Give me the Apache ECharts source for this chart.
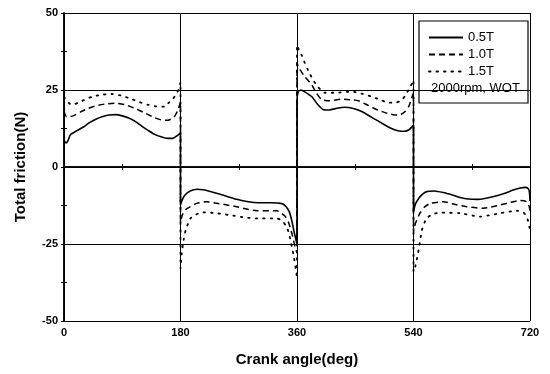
<!DOCTYPE html>
<html lang="en">
<head>
    <meta charset="utf-8"/>
    <title>Total friction</title>
    <script src="https://cdn.jsdelivr.net/npm/echarts@6/dist/echarts.min.js"></script>
</head>
<body style="margin:0;background:#fff;">
<div id="chart" style="width:550px;height:374px;"></div>
<script type="text/javascript">
    // [crank angle (deg), total friction (N)]
    const load05 = [
        [0, 8.8], [3, 7.8], [6, 8.5], [10, 10.5], [20, 11.8], [30, 13], [40, 14.5], [50, 15.6], [60, 16.4],
        [70, 16.9], [80, 17], [90, 16.6], [100, 15.9], [110, 14.8], [120, 13.3], [130, 11.9], [140, 10.6],
        [150, 9.8], [160, 9.3], [168, 9.3], [175, 10.2], [180, 11],
        [180, -12.3], [183, -10.5], [187, -9.1], [195, -7.8], [205, -7.2], [215, -7.4], [230, -8.2], [250, -9.4],
        [267, -10.5], [285, -11.3], [300, -11.6], [320, -11.6], [335, -11.8], [342, -12.6], [348, -14.5],
        [352, -17.5], [356, -21.5], [360, -25],
        [360, 21.5], [362, 24.5], [366, 25], [372, 24.4], [383, 22.8], [392, 20.3], [401, 18.6], [410, 18.5],
        [422, 19.1], [434, 19.4], [447, 19], [460, 18], [475, 16.2], [491, 14.2], [505, 12.6], [516, 11.8],
        [526, 11.6], [533, 12.1], [540, 13.6],
        [540, -14.5], [543, -12], [548, -10.2], [554, -8.8], [560, -8], [572, -7.8], [586, -8.3], [600, -9.1],
        [612, -9.9], [625, -10.4], [638, -10.5], [650, -10.2], [664, -9.6], [680, -8.6], [694, -7.5],
        [705, -6.8], [713, -6.6], [717, -7], [719, -8], [720, -11]
    ];
    const load10 = [
        [0, 18], [4, 16.3], [9, 16.4], [14, 16.6], [25, 17.8], [37, 19], [50, 19.9], [65, 20.5], [79, 20.7],
        [95, 20.2], [110, 19], [125, 17.5], [140, 16], [150, 15.3], [161, 15.2], [170, 16.2], [176, 18.5], [180, 21],
        [180, -18], [183, -15.5], [188, -13.8], [195, -12.9], [205, -11.8], [220, -11.3], [240, -11.9],
        [267, -12.9], [285, -13.8], [298, -14.2], [329, -14.2], [342, -16.1], [347, -18], [352, -21.5],
        [357, -25.9], [360, -28],
        [360, 33.7], [365, 31.5], [372, 29.3], [383, 26.6], [390, 24], [398, 21.9], [410, 21.5], [429, 22],
        [445, 21.8], [455, 21.5], [470, 20], [485, 18.5], [500, 17.4], [511, 16.9], [520, 17], [527, 18],
        [533, 19.8], [537, 22.3], [540, 24],
        [540, -21], [543, -18.3], [550, -15], [557, -13], [566, -11.8], [586, -11.3], [605, -12.2], [622, -12.9],
        [648, -13.4], [674, -12.3], [690, -11.5], [705, -10.9], [715, -11.3], [719, -13], [720, -14.5]
    ];
    const load15 = [
        [0, 22.7], [5, 21.3], [9, 20.5], [14, 20.3], [25, 21.2], [43, 22.8], [60, 23.5], [74, 23.7], [90, 23.1],
        [105, 22], [115, 21.2], [130, 20.2], [146, 19.6], [155, 19.6], [161, 20.7], [168, 22], [174, 23.9],
        [178, 25.5], [180, 27.5],
        [180, -33], [182, -28], [185, -23.5], [188, -20.5], [195, -16.8], [202, -15.6], [215, -14.7], [235, -15],
        [256, -15.6], [280, -16.4], [298, -16.7], [329, -16.7], [337, -17.5], [344, -19.4], [348, -22],
        [352, -25.9], [355, -29], [358, -33], [360, -36],
        [360, 39.6], [363, 38], [367, 36.4], [372, 33.8], [377, 31.5], [383, 29], [390, 26.6], [397, 25],
        [403, 24.1], [420, 24.1], [445, 24.5], [460, 23.8], [476, 22.8], [490, 21.7], [501, 20.9], [512, 20.9],
        [522, 21.7], [528, 23.5], [535, 26], [540, 28.2],
        [540, -34], [542, -33], [545, -30], [548, -26.9], [553, -20.5], [560, -16.7], [570, -15.3], [581, -14.8],
        [612, -15], [643, -16.1], [660, -15.6], [674, -15], [700, -14.2], [710, -14.8], [715, -16.1],
        [719, -19.4], [720, -21]
    ];
    const seriesNames = ['0.5T', '1.0T', '1.5T'];
    const noteText = '2000rpm, WOT';

    const font = 'Liberation Sans, Arial, sans-serif';

    function frameAxis(pos, isX) {
        return {
            type: 'value',
            position: pos,
            min: isX ? 0 : -50,
            max: isX ? 720 : 50,
            interval: isX ? 180 : 25,
            axisLine: {show: true, lineStyle: {color: '#000', width: 1.5}},
            axisTick: {show: true, inside: true, length: 3, lineStyle: {color: '#000'}},
            minorTick: {show: true, splitNumber: 2, length: 3, lineStyle: {color: '#000'}},
            splitLine: {show: false},
            axisLabel: {show: false}
        };
    }

    let chart = echarts.init(document.getElementById('chart'));
    let xMain = frameAxis('bottom', true);
    xMain.name = 'Crank angle(deg)';
    xMain.nameLocation = 'middle';
    xMain.nameGap = 31;
    xMain.nameTextStyle = {fontFamily: font, fontWeight: 'bold', fontSize: 15, color: '#000'};
    xMain.axisLabel = {show: true, margin: 6, fontFamily: font, fontWeight: 'bold', fontSize: 11, color: '#000'};
    xMain.splitLine = {show: true, lineStyle: {color: '#000', width: 1}};

    let yMain = frameAxis('left', false);
    yMain.name = 'Total friction(N)';
    yMain.nameLocation = 'middle';
    yMain.nameGap = 36;
    yMain.nameTextStyle = {fontFamily: font, fontWeight: 'bold', fontSize: 15, color: '#000'};
    yMain.axisLabel = {show: true, margin: 6, fontFamily: font, fontWeight: 'bold', fontSize: 11, color: '#000'};
    yMain.splitLine = {show: true, lineStyle: {color: '#000', width: 1}};

    chart.setOption({
        animation: false,
        grid: {left: 64, right: 20, top: 13, bottom: 53},
        xAxis: [xMain, frameAxis('top', true)],
        yAxis: [yMain, frameAxis('right', false)],
        legend: {
            orient: 'vertical',
            left: 428,
            top: 31,
            padding: 0,
            itemWidth: 34,
            itemHeight: 12,
            itemGap: 4,
            data: seriesNames,
            itemStyle: {opacity: 0},
            textStyle: {fontFamily: font, fontSize: 13, color: '#000'}
        },
        graphic: [
            {
                type: 'rect',
                shape: {x: 419, y: 21, width: 109, height: 82},
                style: {fill: '#fff', stroke: '#000', lineWidth: 1.2},
                z: 0
            },
            {
                type: 'text',
                left: 431,
                top: 82,
                style: {text: noteText, font: '13px ' + font, fill: '#000'},
                z: 10
            }
        ],
        series: [
            {
                name: seriesNames[0], type: 'line', data: load05, symbol: 'none', smooth: 0.2,
                itemStyle: {color: '#000'},
                lineStyle: {color: '#000', width: 1.6, type: 'solid'}, z: 5
            },
            {
                name: seriesNames[1], type: 'line', data: load10, symbol: 'none', smooth: 0.2,
                itemStyle: {color: '#000'},
                lineStyle: {color: '#000', width: 1.5, type: [6, 4]}, z: 5
            },
            {
                name: seriesNames[2], type: 'line', data: load15, symbol: 'none', smooth: 0.2,
                itemStyle: {color: '#000'},
                lineStyle: {color: '#000', width: 1.8, type: [1.5, 6], cap: 'round'}, z: 5
            }
        ]
    });
</script>
</body>
</html>
